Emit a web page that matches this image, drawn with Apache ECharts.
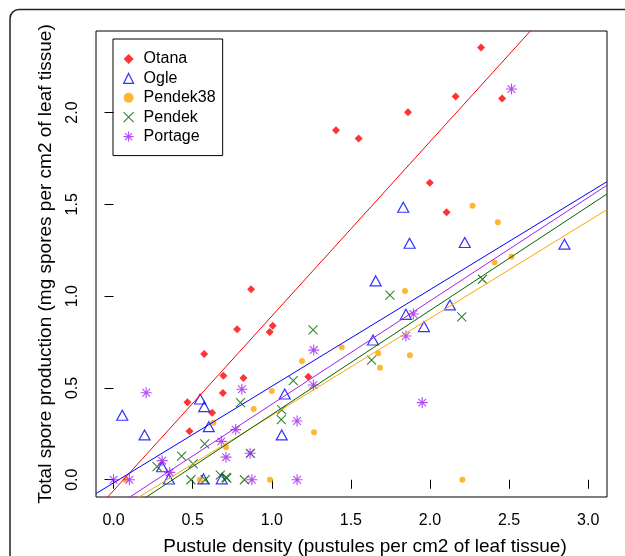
<!DOCTYPE html>
<html>
<head>
<meta charset="utf-8">
<script src="https://cdn.jsdelivr.net/npm/echarts@6/dist/echarts.min.js"></script>
<style>
html, body { margin: 0; padding: 0; background: #fff; }
#chart { width: 625px; height: 556px; }
</style>
</head>
<body>
<div id="chart"></div>
<script>
// points, one pair of arrays per cultivar
var otanaX = [2.323, 1.406, 1.549, 1.861, 2.162, 2.456, 1.999, 2.105, 0.869, 0.781, 1.006, 0.987, 0.573, 0.694, 0.821, 0.467, 0.691, 0.623, 0.480, 1.231];
var otanaY = [2.354, 1.904, 1.858, 2.002, 2.087, 2.076, 1.617, 1.457, 1.038, 0.820, 0.839, 0.805, 0.685, 0.567, 0.554, 0.422, 0.472, 0.365, 0.264, 0.561];

var ogleX = [2.220, 2.850, 2.126, 1.831, 1.871, 1.657, 1.848, 1.962, 1.640, 1.082, 1.063, 0.055, 0.196, 0.547, 0.573, 0.602, 0.307, 0.350, 0.568, 0.684];
var ogleY = [1.292, 1.283, 0.952, 1.484, 1.288, 1.083, 0.901, 0.834, 0.761, 0.467, 0.244, 0.351, 0.244, 0.440, 0.398, 0.289, 0.071, 0.004, 0.005, 0.005];

var pendek38X = [2.269, 2.429, 2.408, 2.515, 1.842, 1.442, 1.191, 1.673, 1.873, 1.684, 1.267, 2.205, 1.000, 0.886, 0.711, 0.989, 0.631, 0.075, 0.545];
var pendek38Y = [1.492, 1.403, 1.183, 1.214, 1.028, 0.722, 0.647, 0.689, 0.678, 0.610, 0.258, 0.000, 0.483, 0.385, 0.177, 0.000, 0.311, 0.000, 0.000];

var pendekX = [2.332, 2.201, 1.747, 1.261, 1.136, 1.631, 1.063, 1.060, 0.802, 0.865, 0.711, 0.827, 0.576, 0.430, 0.503, 0.275, 0.489, 0.579, 0.675, 0.716];
var pendekY = [1.092, 0.887, 1.005, 0.816, 0.540, 0.652, 0.380, 0.327, 0.420, 0.144, 0.013, 0.000, 0.195, 0.129, 0.087, 0.072, 0.000, 0.000, 0.025, 0.009];

var portageX = [2.515, 1.895, 1.848, 1.265, 1.263, 1.951, 1.160, 1.160, 0.811, 0.772, 0.681, 0.711, 0.863, 0.874, 0.206, 0.307, 0.355, 0.000, 0.100];
var portageY = [2.128, 0.903, 0.783, 0.706, 0.516, 0.420, 0.320, 0.000, 0.493, 0.273, 0.209, 0.123, 0.144, 0.000, 0.474, 0.104, 0.040, 0.000, 0.000];

// fitted lines (intercept, slope)
var cultivars = ['Otana', 'Ogle', 'Pendek38', 'Pendek', 'Portage'];
var fitIntercept = [-0.059, -0.017, -0.179, -0.212, -0.152];
var fitSlope = [0.950, 0.526, 0.529, 0.567, 0.563];

var xTicks = [0, 0.5, 1, 1.5, 2, 2.5, 3];
var yTicks = [0, 0.5, 1, 1.5, 2];
var xMin = -0.111, xMax = 3.119;
var yMin = -0.094, yMax = 2.444;

var colors = ['#ff0000', '#0000ff', '#ffa500', '#006400', '#a020f0'];
var fontName = 'Liberation Sans, Arial, Helvetica, sans-serif';

function pairs(xs, ys) {
    var out = [];
    for (var i = 0; i < xs.length; i++) {
        out.push([xs[i], ys[i]]);
    }
    return out;
}

function fitLine(k) {
    return [
        [xMin, fitIntercept[k] + fitSlope[k] * xMin],
        [xMax, fitIntercept[k] + fitSlope[k] * xMax]
    ];
}

var crossPath = 'path://M0,0L10,10M10,0L0,10';
var starPath = 'path://M5,0L5,10M0,5L10,5M1.5,1.5L8.5,8.5M8.5,1.5L1.5,8.5';

var series = [
    {
        name: 'Otana', type: 'scatter', data: pairs(otanaX, otanaY),
        symbol: 'diamond', symbolSize: 8,
        itemStyle: { color: colors[0] }
    },
    {
        name: 'Ogle', type: 'scatter', data: pairs(ogleX, ogleY),
        symbol: 'triangle', symbolSize: [11, 10],
        itemStyle: { color: 'rgba(255,255,255,0)', borderColor: colors[1], borderWidth: 1.2 }
    },
    {
        name: 'Pendek38', type: 'scatter', data: pairs(pendek38X, pendek38Y),
        symbol: 'circle', symbolSize: 6,
        itemStyle: { color: colors[2] }
    },
    {
        name: 'Pendek', type: 'scatter', data: pairs(pendekX, pendekY),
        symbol: crossPath, symbolSize: 9,
        itemStyle: { color: colors[3], borderColor: colors[3], borderWidth: 1.1 }
    },
    {
        name: 'Portage', type: 'scatter', data: pairs(portageX, portageY),
        symbol: starPath, symbolSize: 11,
        itemStyle: { color: colors[4], borderColor: colors[4], borderWidth: 1.1 }
    }
];

for (var k = 0; k < cultivars.length; k++) {
    series.push({
        name: cultivars[k] + ' fit',
        type: 'line',
        data: fitLine(k),
        symbol: 'none',
        silent: true,
        clip: true,
        z: 3,
        lineStyle: { color: colors[k], width: 1 }
    });
}

var axisText = { color: '#000', fontSize: 16, fontFamily: fontName };

var option = {
    animation: false,
    backgroundColor: '#fff',
    graphic: [{
        type: 'rect',
        silent: true,
        shape: { x: 10, y: 9.5, width: 650, height: 620, r: 9 },
        style: { fill: 'none', stroke: '#222', lineWidth: 1.5 }
    }],
    grid: {
        left: 96, top: 31, right: 18, bottom: 59,
        outerBoundsMode: 'none',
        containLabel: false,
        show: true, borderColor: '#000', borderWidth: 1,
        backgroundColor: 'transparent'
    },
    legend: {
        orient: 'vertical',
        left: 113, top: 39,
        padding: [12, 7, 11, 10],
        itemGap: 3.4,
        itemWidth: 10,
        itemHeight: 10,
        symbolKeepAspect: true,
        borderColor: '#000',
        borderWidth: 1,
        selectedMode: false,
        textStyle: { color: '#000', fontSize: 16, lineHeight: 16, fontFamily: fontName, padding: [0, 0, 0, 5] },
        data: [
            { name: 'Otana' },
            { name: 'Ogle', itemStyle: { borderWidth: 1.2 } },
            { name: 'Pendek38' },
            { name: 'Pendek', itemStyle: { borderWidth: 1.1 } },
            { name: 'Portage', itemStyle: { borderWidth: 1.1 } }
        ]
    },
    xAxis: {
        type: 'value',
        min: xMin, max: xMax,
        name: 'Pustule density (pustules per cm2 of leaf tissue)',
        nameLocation: 'middle',
        nameGap: 40,
        nameTextStyle: { color: '#000', fontSize: 19, fontFamily: fontName, padding: [0, 0, 0, 27] },
        axisLine: { show: false },
        axisTick: { show: true, length: 9, customValues: xTicks, lineStyle: { color: '#000' } },
        axisLabel: {
            customValues: xTicks, margin: 16,
            formatter: function (v) { return v.toFixed(1); },
            color: axisText.color, fontSize: axisText.fontSize, fontFamily: axisText.fontFamily
        },
        splitLine: { show: false }
    },
    yAxis: {
        type: 'value',
        min: yMin, max: yMax,
        name: 'Total spore production (mg spores per cm2 of leaf tissue)',
        nameLocation: 'middle',
        nameGap: 41,
        nameTextStyle: { color: '#000', fontSize: 19, fontFamily: fontName },
        axisLine: { show: false },
        axisTick: { show: true, length: 9, customValues: yTicks, lineStyle: { color: '#000' } },
        axisLabel: {
            customValues: yTicks, margin: 15, rotate: 90,
            formatter: function (v) { return v.toFixed(1); },
            color: axisText.color, fontSize: axisText.fontSize, fontFamily: axisText.fontFamily
        },
        splitLine: { show: false }
    },
    series: series
};

var chart = echarts.init(document.getElementById('chart'), null, { renderer: 'canvas' });
chart.setOption(option);
</script>
</body>
</html>
